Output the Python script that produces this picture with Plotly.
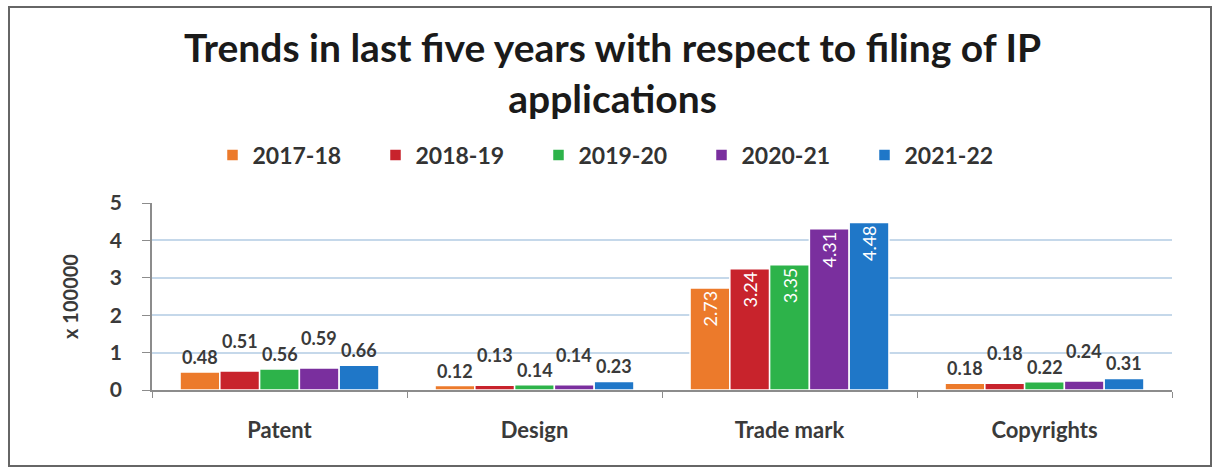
import plotly.graph_objects as go

categories = ["Patent", "Design", "Trade mark", "Copyrights"]
years = ["2017-18", "2018-19", "2019-20", "2020-21", "2021-22"]
values = {
    "2017-18": [0.48, 0.12, 2.73, 0.18],
    "2018-19": [0.51, 0.13, 3.24, 0.18],
    "2019-20": [0.56, 0.14, 3.35, 0.22],
    "2020-21": [0.59, 0.14, 4.31, 0.24],
    "2021-22": [0.66, 0.23, 4.48, 0.31],
}
colors = ["#EC7A2B", "#C8232C", "#2DB34A", "#7A2F9E", "#1F77C8"]
inside_category = "Trade mark"
title_text = "Trends in last five years with respect to filing of IP<br>applications"
y_title = "x 100000"

FONT = "Lato"
TEXT_COL = "#3a3a3a"
W, H = 1216, 470
ML, MR, MT, MB = 152, 44, 203, 80
BARGAP = 0.22

fig = go.Figure()
for i, y in enumerate(years):
    vals = values[y]
    fig.add_trace(go.Bar(
        name=y, x=categories, y=vals,
        marker=dict(color=colors[i], line=dict(color="white", width=1.5)),
        text=[f"{v:.2f}" if c == inside_category else "" for c, v in zip(categories, vals)],
        textposition="inside", insidetextanchor="end", textangle=-90,
        insidetextfont=dict(family=FONT, size=18, color="white"),
        hoverinfo="skip",
    ))

plot_w = W - ML - MR
ph = H - MT - MB
cat_w = plot_w / len(categories)
bar_w = cat_w * (1 - BARGAP) / len(years)
annotations = []
for i, y in enumerate(years):
    for c, v in zip(categories, values[y]):
        if c == inside_category:
            continue
        annotations.append(dict(
            x=c, y=v, xref="x", yref="y", text=f"{v:.2f}", showarrow=False,
            xanchor="center", yanchor="bottom",
            xshift=(i - (len(years) - 1) / 2) * bar_w,
            yshift=2 + (15 if i % 2 == 1 else 0),
            font=dict(family=FONT, size=18, color=TEXT_COL, weight="bold"),
        ))

annotations.append(dict(
    text=title_text, showarrow=False, xref="paper", yref="paper",
    x=(612 - ML) / plot_w, y=(H - MB - 22) / ph, xanchor="center", yanchor="top",
    align="center",
    font=dict(family=FONT, size=39, color="#1a1a1a", weight="bold"),
))

fig.add_shape(type="rect", xref="paper", yref="paper",
              x0=(9 - ML) / plot_w, x1=(1211 - ML) / plot_w,
              y0=(H - MB - 466) / ph, y1=(H - MB - 7) / ph,
              line=dict(color="#666666", width=2), layer="below")

fig.update_layout(
    width=W, height=H,
    margin=dict(l=ML, r=MR, t=MT, b=MB, autoexpand=False),
    paper_bgcolor="white", plot_bgcolor="white",
    barmode="group", bargap=BARGAP, bargroupgap=0,
    legend=dict(orientation="h", x=620 / W, xref="container", xanchor="center",
                y=1 - 155 / H, yref="container", yanchor="middle",
                font=dict(family=FONT, size=23, color="#333333", weight="bold"),
                itemwidth=30, tracegroupgap=0, entrywidth=118),
    annotations=annotations,
    showlegend=True,
)
fig.update_xaxes(showline=True, linecolor="#8c8c8c", linewidth=1.5,
                 ticks="outside", tickson="boundaries", ticklen=6, tickcolor="#8c8c8c",
                 tickfont=dict(family=FONT, size=22, color=TEXT_COL, weight="bold"),
                 ticklabelstandoff=20)
fig.update_yaxes(range=[0, 5], dtick=1, showgrid=True, gridcolor="#C5D8EA", gridwidth=1.5,
                 showline=True, linecolor="#8c8c8c", linewidth=1.5,
                 ticks="outside", ticklen=8, tickcolor="#8c8c8c",
                 tickfont=dict(family=FONT, size=21, color=TEXT_COL, weight="bold"),
                 ticklabelstandoff=16,
                 zeroline=False,
                 title=dict(text=y_title, standoff=26,
                            font=dict(family=FONT, size=20, color=TEXT_COL, weight="bold")))

fig.write_html("out.html")
